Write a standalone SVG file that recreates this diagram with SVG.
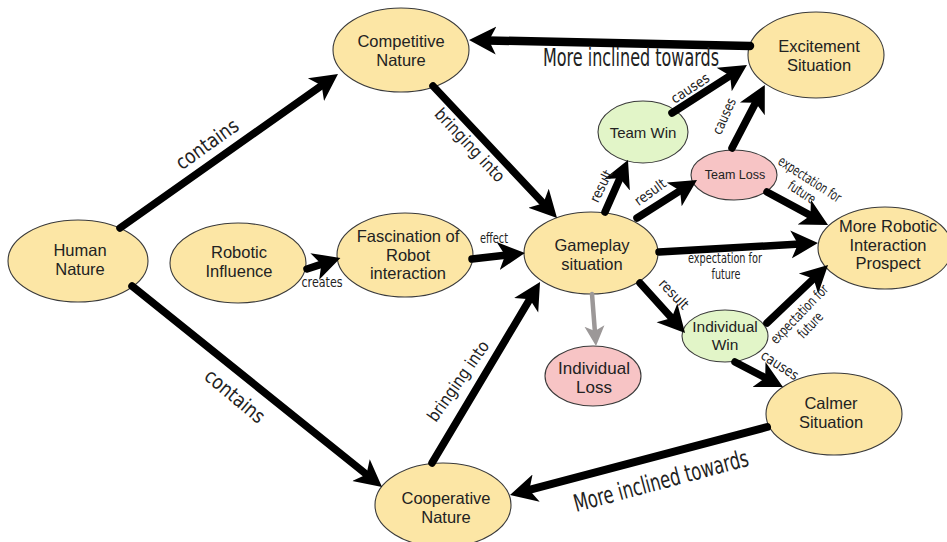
<svg xmlns="http://www.w3.org/2000/svg" width="947" height="542" viewBox="0 0 947 542">
  <style>
    .node ellipse { stroke: #3a3a3a; stroke-width: 1.1; }
    .yellow { fill: #fce6a5; }
    .green { fill: #e2f5c8; }
    .pink { fill: #f7c4c5; }
    .node text { font-family: "Liberation Sans", Arial, sans-serif; font-size: 16.5px; fill: #222; text-anchor: middle; }
    .edge { fill: none; stroke: #000; stroke-width: 7.5; stroke-linecap: round; marker-end: url(#head); }
    .edge.grey { stroke: #9c9898; stroke-width: 4.5; marker-end: url(#headGrey); }
    .lbl { font-family: "Liberation Sans Narrow", "DejaVu Sans Condensed", "DejaVu Sans", sans-serif; font-stretch: condensed; fill: #222; text-anchor: middle; }
  </style>
  <defs>
    <marker id="head" markerUnits="userSpaceOnUse" viewBox="0 -15 28 30" refX="9" refY="0" markerWidth="28" markerHeight="30" orient="auto">
      <path d="M0,-14 L27,0 L0,14 L7,0 z" fill="#000"/>
    </marker>
    <marker id="headGrey" markerUnits="userSpaceOnUse" viewBox="0 -11 21 22" refX="7" refY="0" markerWidth="21" markerHeight="22" orient="auto">
      <path d="M0,-10 L20,0 L0,10 L5,0 z" fill="#9c9898"/>
    </marker>
  </defs>
  <rect width="947" height="542" fill="#fff"/>

  <!-- nodes: ellipse plus a multi-line label -->
  <g id="competitive-nature" class="node">
    <ellipse class="yellow" cx="401" cy="50" rx="68" ry="42"/>
    <text x="401" y="47">Competitive<tspan x="401" dy="18.5">Nature</tspan></text>
  </g>
  <g id="excitement-situation" class="node">
    <ellipse class="yellow" cx="816" cy="55" rx="68" ry="43"/>
    <text x="819" y="52">Excitement<tspan x="819" dy="18.5">Situation</tspan></text>
  </g>
  <g id="team-win" class="node">
    <ellipse class="green" cx="643" cy="132" rx="45" ry="31"/>
    <text x="643" y="138" style="font-size:15px">Team Win</text>
  </g>
  <g id="team-loss" class="node">
    <ellipse class="pink" cx="734" cy="175" rx="43" ry="25"/>
    <text x="735" y="179" style="font-size:12.5px">Team Loss</text>
  </g>
  <g id="human-nature" class="node">
    <ellipse class="yellow" cx="78" cy="261" rx="70" ry="41"/>
    <text x="80" y="256">Human<tspan x="80" dy="18.5">Nature</tspan></text>
  </g>
  <g id="robotic-influence" class="node">
    <ellipse class="yellow" cx="238" cy="263" rx="68" ry="40"/>
    <text x="239" y="258">Robotic<tspan x="239" dy="18.5">Influence</tspan></text>
  </g>
  <g id="fascination" class="node">
    <ellipse class="yellow" cx="405" cy="255" rx="68" ry="42"/>
    <text x="408" y="242">Fascination of<tspan x="408" dy="18.5">Robot</tspan><tspan x="408" dy="18.5">interaction</tspan></text>
  </g>
  <g id="gameplay-situation" class="node">
    <ellipse class="yellow" cx="591" cy="253" rx="67" ry="41"/>
    <text x="592" y="251">Gameplay<tspan x="592" dy="18.5">situation</tspan></text>
  </g>
  <g id="more-robotic-interaction" class="node">
    <ellipse class="yellow" cx="885" cy="248" rx="67" ry="41"/>
    <text x="888" y="232">More Robotic<tspan x="888" dy="18.5">Interaction</tspan><tspan x="888" dy="18.5">Prospect</tspan></text>
  </g>
  <g id="individual-win" class="node">
    <ellipse class="green" cx="725" cy="336" rx="43" ry="26"/>
    <text x="725" y="332" style="font-size:15.5px">Individual<tspan x="725" dy="17.5">Win</tspan></text>
  </g>
  <g id="individual-loss" class="node">
    <ellipse class="pink" cx="593" cy="376" rx="48" ry="30"/>
    <text x="594" y="374" style="font-size:17px">Individual<tspan x="594" dy="19">Loss</tspan></text>
  </g>
  <g id="calmer-situation" class="node">
    <ellipse class="yellow" cx="834" cy="414" rx="68" ry="41"/>
    <text x="831" y="409">Calmer<tspan x="831" dy="18.5">Situation</tspan></text>
  </g>
  <g id="cooperative-nature" class="node">
    <ellipse class="yellow" cx="443" cy="505" rx="68" ry="42"/>
    <text x="446" y="504">Cooperative<tspan x="446" dy="18.5">Nature</tspan></text>
  </g>

  <!-- connectors -->
  <g id="connectors">
    <path class="edge" d="M120,228 L323.3,84.4"/>
    <path class="edge" d="M132,286 L368,475.7"/>
    <path class="edge" d="M433,86 L544.7,204.8"/>
    <path class="edge" d="M432,463 L530.8,297.5"/>
    <path class="edge" d="M307,269 L323.3,263.6"/>
    <path class="edge" d="M472,259 L507.1,255"/>
    <path class="edge" d="M750,46 L487,40.4" style="stroke-width:8.5"/>
    <path class="edge" d="M672,113 L731.8,74.7"/>
    <path class="edge" d="M732,148 L756.5,100.9"/>
    <path class="edge" d="M605,212 L620.7,176.5"/>
    <path class="edge" d="M637,218 L681.8,189.6"/>
    <path class="edge" d="M767,192 L812.2,216.4"/>
    <path class="edge" d="M659,252 L800,244"/>
    <path class="edge" d="M640,283 L673,319.6"/>
    <path class="edge" d="M767,323 L815,277.4"/>
    <path class="edge" d="M735,362 L767,378.7"/>
    <path class="edge grey" d="M592,294 L595,333"/>
    <path class="edge" d="M767,427 L527.4,490.4" style="stroke-width:8"/>
  </g>

  <!-- connector labels -->
  <g id="labels">
    <text class="lbl" transform="translate(207,144) rotate(-35.5)" y="7" font-size="20" textLength="72" lengthAdjust="spacingAndGlyphs">contains</text>
    <text class="lbl" transform="translate(235,396) rotate(40)" y="7" font-size="20" textLength="72" lengthAdjust="spacingAndGlyphs">contains</text>
    <text class="lbl" transform="translate(470,145) rotate(47)" y="6" font-size="17" textLength="94" lengthAdjust="spacingAndGlyphs">bringing into</text>
    <text class="lbl" transform="translate(458,381) rotate(-55)" y="6" font-size="17" textLength="94" lengthAdjust="spacingAndGlyphs">bringing into</text>
    <text class="lbl" x="322" y="287" font-size="14" textLength="41" lengthAdjust="spacingAndGlyphs">creates</text>
    <text class="lbl" x="494" y="243" font-size="14" textLength="28" lengthAdjust="spacingAndGlyphs">effect</text>
    <text class="lbl" x="631" y="66" font-size="24" textLength="176" lengthAdjust="spacingAndGlyphs">More inclined towards</text>
    <text class="lbl" transform="translate(661,481) rotate(-15)" y="8" font-size="24" textLength="180" lengthAdjust="spacingAndGlyphs">More inclined towards</text>
    <text class="lbl" transform="translate(690,88) rotate(-33)" y="5" font-size="14" textLength="43" lengthAdjust="spacingAndGlyphs">causes</text>
    <text class="lbl" transform="translate(724,116) rotate(-66)" y="5" font-size="14" textLength="38" lengthAdjust="spacingAndGlyphs">causes</text>
    <text class="lbl" transform="translate(601,186) rotate(-64)" y="5" font-size="14" textLength="34" lengthAdjust="spacingAndGlyphs">result</text>
    <text class="lbl" transform="translate(650,192) rotate(-36)" y="5" font-size="14" textLength="35" lengthAdjust="spacingAndGlyphs">result</text>
    <text class="lbl" transform="translate(674,294) rotate(46)" y="5" font-size="14" textLength="36" lengthAdjust="spacingAndGlyphs">result</text>
    <text class="lbl" transform="translate(780,365) rotate(33)" y="5" font-size="14" textLength="42" lengthAdjust="spacingAndGlyphs">causes</text>
    <g font-size="14">
      <text class="lbl" transform="translate(810,179) rotate(33)" y="5" textLength="72" lengthAdjust="spacingAndGlyphs">expectation for</text>
      <text class="lbl" transform="translate(802,192) rotate(33)" y="5" textLength="30" lengthAdjust="spacingAndGlyphs">future</text>
      <text class="lbl" x="725" y="263" textLength="74" lengthAdjust="spacingAndGlyphs">expectation for</text>
      <text class="lbl" x="726" y="279" textLength="29" lengthAdjust="spacingAndGlyphs">future</text>
      <text class="lbl" transform="translate(799,314) rotate(-46)" y="5" textLength="76" lengthAdjust="spacingAndGlyphs">expectation for</text>
      <text class="lbl" transform="translate(810,325) rotate(-46)" y="5" textLength="30" lengthAdjust="spacingAndGlyphs">future</text>
    </g>
  </g>
</svg>
